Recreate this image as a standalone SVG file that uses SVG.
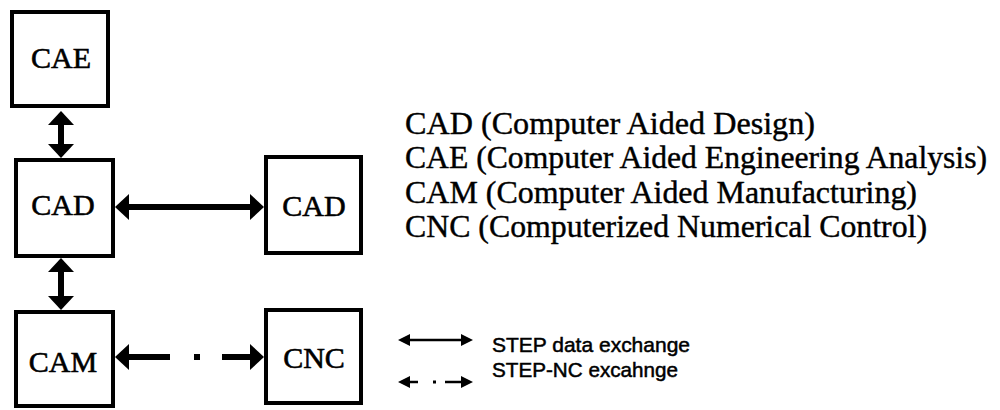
<svg xmlns="http://www.w3.org/2000/svg" width="1000" height="410" viewBox="0 0 1000 410">
<style>
.box{fill:#fff;stroke:#000;stroke-width:4}
.bt{font-family:"Liberation Serif","Times New Roman",serif;font-size:30px;fill:#000;stroke:#000;stroke-width:0.6;text-anchor:middle}
.lt{font-family:"Liberation Serif","Times New Roman",serif;font-size:31px;fill:#000;stroke:#000;stroke-width:0.4}
.st{font-family:"Liberation Sans",Arial,sans-serif;font-size:21px;fill:#000;stroke:#000;stroke-width:0.5}
.thick{stroke:#000;stroke-width:6;fill:none}
.thin{stroke:#000;stroke-width:2.5;fill:none}
</style>
<defs>
<marker id="hd" viewBox="0 0 14 26" refX="4" refY="13" markerWidth="14" markerHeight="26" markerUnits="userSpaceOnUse" orient="auto-start-reverse">
<path d="M0,0 L14,13 L0,26 z" fill="#000"/>
</marker>
<marker id="hs" viewBox="0 0 12 12" refX="2" refY="6" markerWidth="12" markerHeight="12" markerUnits="userSpaceOnUse" orient="auto-start-reverse">
<path d="M0,0 L12,6 L0,12 z" fill="#000"/>
</marker>
</defs>
<rect width="1000" height="410" fill="#fff"/>
<g id="connectors">
<line class="thick" x1="61" y1="121" x2="61" y2="148" marker-start="url(#hd)" marker-end="url(#hd)"/>
<line class="thick" x1="125" y1="207" x2="254" y2="207" marker-start="url(#hd)" marker-end="url(#hd)"/>
<line class="thick" x1="61" y1="268" x2="61" y2="300" marker-start="url(#hd)" marker-end="url(#hd)"/>
<line class="thick" x1="170" y1="357" x2="125" y2="357" marker-end="url(#hd)"/>
<rect x="194" y="354" width="6" height="6" fill="#000"/>
<line class="thick" x1="222" y1="357" x2="254" y2="357" marker-end="url(#hd)"/>
</g>
<g id="cae"><rect class="box" x="12" y="12" width="96" height="94"/><text class="bt" x="61" y="68">CAE</text></g>
<g id="cad1"><rect class="box" x="16" y="160" width="97" height="96"/><text class="bt" x="63" y="215">CAD</text></g>
<g id="cad2"><rect class="box" x="266" y="157" width="95" height="96"/><text class="bt" x="314" y="216">CAD</text></g>
<g id="cam"><rect class="box" x="16" y="312" width="97" height="94"/><text class="bt" x="63" y="372">CAM</text></g>
<g id="cnc"><rect class="box" x="266" y="310" width="95" height="93"/><text class="bt" x="314" y="368">CNC</text></g>
<g id="glossary">
<text class="lt" x="405" y="134" textLength="410" lengthAdjust="spacingAndGlyphs">CAD (Computer Aided Design)</text>
<text class="lt" x="405" y="168" textLength="582" lengthAdjust="spacingAndGlyphs">CAE (Computer Aided Engineering Analysis)</text>
<text class="lt" x="405" y="203" textLength="512" lengthAdjust="spacingAndGlyphs">CAM (Computer Aided Manufacturing)</text>
<text class="lt" x="405" y="237" textLength="522" lengthAdjust="spacingAndGlyphs">CNC (Computerized Numerical Control)</text>
</g>
<g id="legend">
<line class="thin" x1="408" y1="340" x2="463" y2="340" marker-start="url(#hs)" marker-end="url(#hs)"/>
<line class="thin" x1="418" y1="382" x2="408" y2="382" marker-end="url(#hs)"/>
<rect x="433" y="380.5" width="3" height="3" fill="#000"/>
<line class="thin" x1="445" y1="382" x2="463" y2="382" marker-end="url(#hs)"/>
<text class="st" x="492" y="352" textLength="198" lengthAdjust="spacingAndGlyphs">STEP data exchange</text>
<text class="st" x="492" y="377" textLength="186" lengthAdjust="spacingAndGlyphs">STEP-NC excahnge</text>
</g>
</svg>
